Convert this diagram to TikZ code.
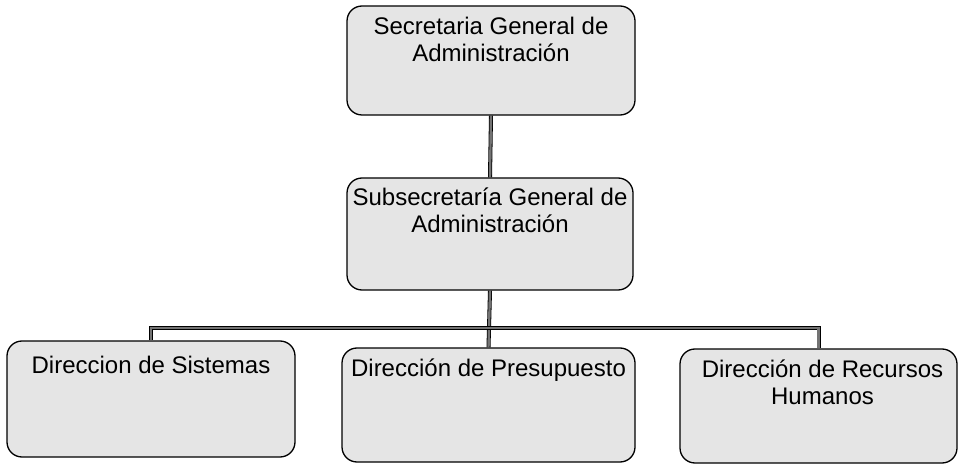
\documentclass[tikz,border=0pt]{standalone}
\usepackage{fontspec}
\setmainfont{Liberation Sans}
\usetikzlibrary{calc}
\tikzset{
  orgbox/.style={draw=black, line width=1.3pt, rounded corners=15pt, fill=black!10, inner sep=0pt},
  lbl/.style={anchor=north, align=center, inner sep=0pt, font=\fontsize{24}{27}\selectfont},
  conn/.style={draw=black, line width=0.8pt, double=black!55, double distance=2.4pt}
}
\begin{document}
\begin{tikzpicture}[x=1pt,y=-1pt]
\useasboundingbox[fill=white] (0,0) rectangle (959,465);
% boxes
\node[orgbox, minimum width=288pt, minimum height=109pt] (sga) at (491,60.5) {};
\node[orgbox, minimum width=286pt, minimum height=112pt] (ssga) at (490,234) {};
\node[orgbox, minimum width=288pt, minimum height=116pt] (ds) at (151,399) {};
\node[orgbox, minimum width=293pt, minimum height=114pt] (dp) at (488.5,405) {};
\node[orgbox, minimum width=277pt, minimum height=114pt] (drh) at (818.5,406) {};
% connectors
\coordinate (bus) at (490,328);
\draw[conn] (sga.south) -- (ssga.north);
\draw[conn] (ssga.south) -- (dp.north);
\draw[conn] (ds.north) -- (ds.north |- bus) -- (drh.north |- bus) -- (drh.north);
% labels
\node[lbl] (tsga) at ($(sga.north)+(0,11.5)$) {Secretaria General de\\Administración};
\node[lbl] (tssga) at ($(ssga.north)+(0,10)$) {Subsecretaría General de\\Administración};
\node[lbl] (tds) at ($(ds.north)+(0,16)$) {Direccion de Sistemas};
\node[lbl] (tdp) at ($(dp.north)+(0,11)$) {Dirección de Presupuesto};
\node[lbl] (tdrh) at ($(drh.north)+(4,11.5)$) {Dirección de Recursos\\Humanos};
\end{tikzpicture}
\end{document}
